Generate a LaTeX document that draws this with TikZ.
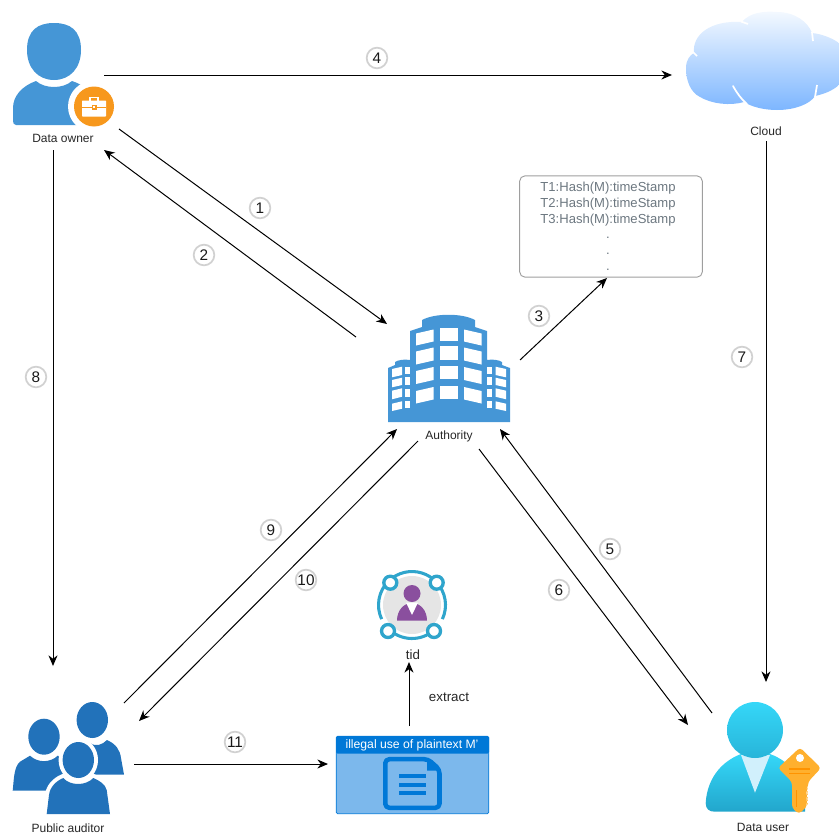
\documentclass[tikz,border=0pt]{standalone}
\usepackage{fontspec}
\setmainfont{Liberation Sans}
\usetikzlibrary{arrows.meta}
\definecolor{ownerblue}{HTML}{4596D6}
\definecolor{audblue}{HTML}{2272BA}
\definecolor{brief}{HTML}{F7981D}
\definecolor{docblue}{HTML}{0078D7}
\definecolor{doclight}{HTML}{7CB8EC}
\definecolor{ring}{HTML}{2FA5CC}
\definecolor{purp}{HTML}{8A4F9E}
\definecolor{usertop}{HTML}{35D7F8}
\definecolor{userbot}{HTML}{22A6CC}
\definecolor{keytop}{HTML}{FFB02E}
\definecolor{keybot}{HTML}{FFD814}
\definecolor{ledger}{HTML}{6C7780}
\definecolor{cloudtop}{HTML}{F4F9FF}
\definecolor{cloudbot}{HTML}{7DB6FF}
\tikzset{
  x=0.75pt,y=-0.75pt,
  flow/.style={draw=black,line width=0.75pt,-{Stealth[length=8pt,width=6.8pt]}},
  numtag/.style={circle,draw=black!18,line width=1.3pt,fill=white,minimum size=15.5pt,inner sep=0pt,font=\fontsize{11.5}{13}\selectfont,text=black!90},
  caption/.style={font=\fontsize{9}{10}\selectfont,text=black!85,inner sep=0pt},
  ledgertext/.style={font=\fontsize{9.8}{11}\selectfont,text=ledger,inner sep=0pt},
}
\begin{document}
\begin{tikzpicture}
\useasboundingbox (0,0) rectangle (839,835);
% Data owner
\fill[ownerblue] (27,50) .. controls (27,30) and (38,23) .. (54,23) .. controls (70,23) and (81,30) .. (81,50) .. controls (81,68) and (70,80) .. (54,80) .. controls (38,80) and (27,68) .. (27,50) -- cycle;
\fill[ownerblue] (36,81) .. controls (45,89) and (63,89) .. (72,81) .. controls (78,83) and (84,86) .. (90,92) -- (90,125) -- (16,125) .. controls (14,125) and (13,123) .. (13,121) -- (13,108) .. controls (13,96) and (22,86) .. (36,81) -- cycle;
\fill[white] (94,106.5) circle (26);
\fill[brief] (94,106.5) circle (20);
\fill[white,rounded corners=0.5pt] (82,100.5) rectangle (106,116.5);
\draw[white,line width=1pt] (90,100.5) -- (90,97.5) -- (98,97.5) -- (98,100.5);
\draw[brief,line width=0.7pt] (82,107) -- (106,107);
\fill[brief] (91.5,105) rectangle (96.5,109.5);
\fill[white] (92.7,106) rectangle (95.3,108.3);
\node[caption] (owner) at (63,138.5) {Data owner};
% Cloud
\shade[top color=cloudtop,bottom color=cloudbot]
 (686,68) .. controls (686,60) and (690,55) .. (694,53)
 .. controls (692,35) and (710,20) .. (742,22)
 .. controls (750,12) and (765,11) .. (777,12)
 .. controls (795,12) and (808,22) .. (812,33)
 .. controls (822,34) and (832,38) .. (839,43)
 -- (839,85)
 .. controls (832,91) and (824,94) .. (815,96)
 .. controls (810,104) and (795,110) .. (777,110)
 .. controls (764,110) and (752,107) .. (744,102)
 .. controls (730,106) and (712,104) .. (700,97)
 .. controls (690,92) and (686,80) .. (686,68) -- cycle;
\draw[white,line width=1.3pt,line cap=round] (733,86) .. controls (737,93) and (741,99) .. (747,104);
\draw[white,line width=1.3pt] (817,85) -- (815,97);
\draw[white,line width=1.3pt] (812,32) -- (813,41);
\draw[white,line width=1.3pt] (741,21.5) -- (748,24);
\draw[white,line width=1.3pt] (693,52) -- (697,56);
\node[caption] (cloud) at (766,131) {Cloud};
% Ledger
\node[draw=black!38,rounded corners=4pt,line width=0.7pt,minimum width=137pt,minimum height=76pt,inner sep=0pt] (ledgerbox) at (611,226.5) {};
\node[ledgertext] (t1) at (608,188.5) {T1:Hash(M):timeStamp};
\node[ledgertext] (t2) at (608,204.5) {T2:Hash(M):timeStamp};
\node[ledgertext] (t3) at (608,220) {T3:Hash(M):timeStamp};
\node[ledgertext] (d1) at (608,237.5) {.};
\node[ledgertext] (d2) at (608,253.5) {.};
\node[ledgertext] (d3) at (608,269.5) {.};
% Authority
\fill[ownerblue] (388,422) -- (388,368) -- (395,365) -- (395,362) .. controls (398,360) and (404,359) .. (410,360) -- (410,331) -- (422,327) -- (422,320) .. controls (435,313) and (462,313) .. (475,320) -- (475,327) -- (487,331) -- (487,360) .. controls (493,359) and (499,360) .. (502,362) -- (502,365) -- (510,368) -- (510,422) -- cycle;
\foreach \a/\b/\c/\d/\e/\f/\g/\h in {
 416/333.5/433.5/329.5/433.5/341.5/416/345.5, 439.5/327.5/457.5/327.5/457.5/340.5/439.5/340.5, 464/329.5/481.5/333.5/481.5/345.5/464/341.5,
 416/351.5/433.5/347.5/433.5/360.5/416/364.5, 439.5/346/457.5/346/457.5/359.5/439.5/359.5, 464/347.5/481.5/351.5/481.5/364.5/464/360.5,
 416/371/433.5/367/433.5/380/416/384, 439.5/365.5/457.5/365.5/457.5/378.5/439.5/378.5, 464/367/481.5/371/481.5/384/464/380,
 416/391/433.5/387/433.5/399.5/416/403.5, 439.5/386/457.5/386/457.5/399/439.5/399, 464/387/481.5/391/481.5/403.5/464/399.5,
 392/369/402/366.7/402/375/392/377.3, 392/380/402/377.7/402/385/392/387.3, 392/390.7/402/388.3/402/396.7/392/399.3, 392/403.7/402/401.3/402/408.7/392/411,
 405.3/366.7/410/366.7/410/374/405.3/374, 405.3/377.3/410/377.3/410/385/405.3/385, 405.3/388.7/410/388.7/410/396.7/405.3/396.7, 405.3/400.7/410/400.7/410/408.3/405.3/408.3,
 487.3/366.7/492/366.7/492/374/487.3/374, 487.3/377.3/492/377.3/492/385/487.3/385, 487.3/388.7/492/388.7/492/396.7/487.3/396.7, 487.3/400.7/492/400.7/492/408.3/487.3/408.3,
 495.5/366.7/506/369/506/377.3/495.5/375, 495.5/377.7/506/380/506/387.3/495.5/385, 495.5/388.3/506/390.7/506/399.3/495.5/396.7, 495.5/401.3/506/403.7/506/411/495.5/408.7}
 {\fill[white] (\a,\b) -- (\c,\d) -- (\e,\f) -- (\g,\h) -- cycle;}
\node[caption] (authority) at (449,436) {Authority};
% tid
\fill[black!10] (412,605) circle (29);
\foreach \p/\q in {43/134,134/205,228/310,335/403}{
  \draw[ring,line width=2.3pt] ({412+33.5*cos(\p)},{605-33.5*sin(\p)}) arc[start angle=\p,end angle=\q,radius=25.1pt];
}
\foreach \px/\py in {390.3/582.7,436.7/582.7,388/631,434/631}{
  \draw[ring,line width=2.5pt,fill=white] (\px,\py) circle (6.5);
}
\fill[purp] (412,593.5) circle (8.5);
\fill[purp] (397,620.7) .. controls (397,610) and (404,603) .. (412,603) .. controls (420,603) and (427,610) .. (427,620.7) -- cycle;
\fill[white] (406,602.5) -- (418,602.5) -- (412,615) -- cycle;
\node[caption,font=\fontsize{10}{11}\selectfont] (tid) at (413,655) {tid};
% Document
\node[draw=docblue,fill=doclight,rounded corners=1pt,line width=0.6pt,minimum width=114.5pt,minimum height=58pt,inner sep=0pt] (docbody) at (412.5,775) {};
\fill[docblue,rounded corners=1pt] (336,736) rectangle (489,753.5);
\node[font=\fontsize{9.15}{11}\selectfont,text=white,inner sep=0pt] (doctitle) at (412,745.5) {illegal use of plaintext M'};
\draw[docblue,line width=3.4pt,rounded corners=3pt,line join=round] (385.3,759.2) -- (428,759.2) -- (439.5,769.5) -- (439.5,807.8) -- (385.3,807.8) -- cycle;
\fill[docblue] (427,758) -- (427,770.5) -- (441,770.5) -- cycle;
\foreach \y in {776,784.5,793}{\fill[docblue] (398.7,\y-2) rectangle (426,\y+2);}
\node[font=\fontsize{10}{11}\selectfont,text=black!85,inner sep=0pt] (extractlabel) at (449,697.5) {extract};
% Public auditor
\fill[audblue] (90,743) .. controls (96,747) and (102,745) .. (107,740) .. controls (116,744) and (120,750) .. (121,758) -- (124,774.5) -- (85,774.5) -- cycle;
\fill[audblue] (92.3,720) ellipse (15.7 and 18);
\fill[audblue] (30,755.7) .. controls (38,763) and (50,763) .. (58,755.5) -- (70,770) -- (70,790.7) -- (12.7,790.7) .. controls (14,778) and (14,767) .. (20,761.7) -- cycle;
\fill[audblue] (44,736.7) ellipse (15.7 and 18);
\draw[white,line width=6pt] (78.3,760) ellipse (15.7 and 18);
\fill[audblue] (78.3,760) ellipse (15.7 and 18);
\draw[white,line width=6pt] (63.3,778) .. controls (70,786) and (86,786) .. (93.3,778) .. controls (100,781) and (105,784) .. (106.7,790) -- (110,814) -- (46.7,814) -- (49,795) .. controls (50,787) and (56,781) .. (63.3,778) -- cycle;
\fill[audblue] (63.3,778) .. controls (70,786) and (86,786) .. (93.3,778) .. controls (100,781) and (105,784) .. (106.7,790) -- (110,814) -- (46.7,814) -- (49,795) .. controls (50,787) and (56,781) .. (63.3,778) -- cycle;
\node[caption] (auditor) at (68,828) {Public auditor};
% Data user
\shade[top color=usertop,bottom color=userbot] (705.7,803) .. controls (707,780) and (720,762) .. (741,754) -- (770,754) .. controls (792,762) and (803,780) .. (805,803) -- (805,811.7) -- (715,811.7) .. controls (709,811.7) and (705.7,809) .. (705.7,803) -- cycle;
\fill[cyan!18] (741,755) -- (770,755) -- (755,792.7) -- cycle;
\shade[top color=usertop,bottom color=userbot!70!usertop] (755,730) circle (28);
\shade[top color=keytop,middle color=keybot,bottom color=keytop,rounded corners=2.5pt] (800,747.5) -- (821,768) -- (808,782) -- (808,788) -- (805.5,790.5) -- (808,793) -- (805.5,796) -- (808,799) -- (805.5,802) -- (808,805) -- (799,814) -- (792,808) -- (792,782) -- (778,768) -- cycle;
\fill[white] (800,758) circle (4);
\fill[orange!85!yellow] (789,768.2) rectangle (810,769.8);
\fill[orange!85!yellow] (789,772.8) rectangle (810,774.4);
\fill[orange!85!yellow] (795.5,790) rectangle (797,807);
\node[caption] (user) at (763,827.5) {Data user};
% Connector ends
\coordinate (c4a) at (104,75); \coordinate (c4b) at (672,75);
\coordinate (c1a) at (119,129); \coordinate (c1b) at (387,324);
\coordinate (c2a) at (356,337); \coordinate (c2b) at (104,150);
\coordinate (c3a) at (520,360); \coordinate (c3b) at (607,278);
\coordinate (c7a) at (766,141); \coordinate (c7b) at (766,682);
\coordinate (c8a) at (53,150); \coordinate (c8b) at (53,666);
\coordinate (c9a) at (124,703); \coordinate (c9b) at (397,429);
\coordinate (c10a) at (418,441); \coordinate (c10b) at (139,721);
\coordinate (c5a) at (712,713); \coordinate (c5b) at (500,429);
\coordinate (c6a) at (479,449); \coordinate (c6b) at (688,725);
\coordinate (c11a) at (134,764); \coordinate (c11b) at (328,764);
\coordinate (cxa) at (409,726); \coordinate (cxb) at (409,662);
\foreach \p in {4,1,2,3,7,8,9,10,5,6,11,x}{\draw[flow] (c\p a) -- (c\p b);}
% Number tags
\node[numtag] (n4) at (377,58) {4};
\node[numtag] (n1) at (260,208) {1};
\node[numtag] (n2) at (204,255) {2};
\node[numtag] (n3) at (539,316) {3};
\node[numtag] (n7) at (742,357) {7};
\node[numtag] (n8) at (36,377) {8};
\node[numtag] (n9) at (271,530) {9};
\node[numtag] (n10) at (306,580) {10};
\node[numtag] (n5) at (610,549) {5};
\node[numtag] (n6) at (559,590) {6};
\node[numtag] (n11) at (235,742) {11};
\end{tikzpicture}
\end{document}
